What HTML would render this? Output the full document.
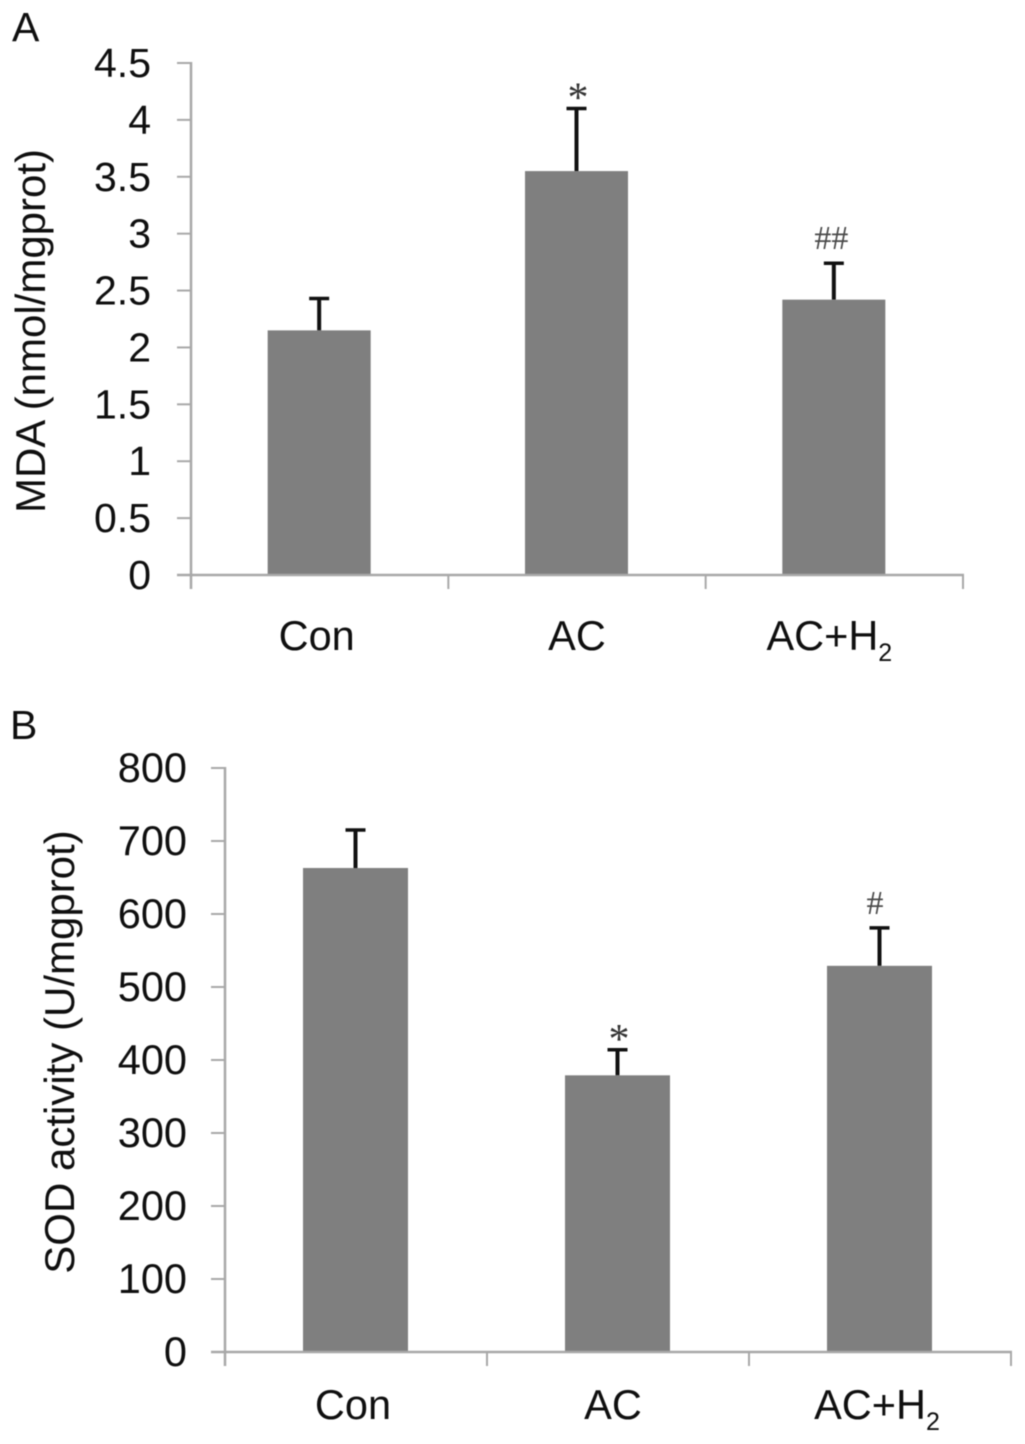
<!DOCTYPE html>
<html>
<head>
<meta charset="utf-8">
<title>MDA and SOD bar charts</title>
<style>
html,body{margin:0;padding:0;background:#fff;}
svg{display:block;filter:blur(0.5px);}
text{font-family:"Liberation Sans",Arial,sans-serif;fill:#0f0f0f;}
</style>
</head>
<body>
<svg id="fig" xmlns="http://www.w3.org/2000/svg" width="1025" height="1444" viewBox="0 0 1025 1444"></svg>
<script>
const groupsA = ['Con', 'AC', 'AC+H'];
const valuesA = [2.15, 3.55, 2.42];
const errorsA = [0.28, 0.55, 0.32];
const ticksA = [0, 0.5, 1, 1.5, 2, 2.5, 3, 3.5, 4, 4.5];
const marksA = ['', '*', '##'];

const groupsB = ['Con', 'AC', 'AC+H'];
const valuesB = [663, 379, 529];
const errorsB = [52, 35, 52];
const ticksB = [0, 100, 200, 300, 400, 500, 600, 700, 800];
const marksB = ['', '*', '#'];

const svg = document.getElementById('fig');
const NS = 'http://www.w3.org/2000/svg';

function make(tag, attrs, text) {
  const el = document.createElementNS(NS, tag);
  for (const k in attrs) el.setAttribute(k, attrs[k]);
  if (text !== undefined) el.textContent = text;
  svg.appendChild(el);
  return el;
}

function drawChart(cfg) {
  const yScale = v => cfg.y0 - (v - cfg.min) / (cfg.max - cfg.min) * (cfg.y0 - cfg.yTop);
  const band = (cfg.xEnd - cfg.x0) / cfg.groups.length;
  const xCenter = i => cfg.x0 + band * (i + 0.5);

  cfg.groups.forEach((g, i) => {
    const cx = xCenter(i);
    const top = yScale(cfg.values[i]);
    const errTop = yScale(cfg.values[i] + cfg.errors[i]);

    const stem = make('line', {x1: cx - 0.5, x2: cx - 0.5, y1: top, y2: errTop, stroke: '#111', 'stroke-width': 4});
    
    

    const cap = make('line', {x1: cx - 10.5, x2: cx + 9.5, y1: errTop, y2: errTop, stroke: '#111', 'stroke-width': 3.5});
    
    

    const bar = make('rect', {x: cx - cfg.barW / 2 - 0.5, y: top, width: cfg.barW, height: cfg.y0 - top, fill: '#7f7f7f'});
    
    

    const label = make('text', {x: cx + cfg.labelDx[i], y: cfg.labelY, 'text-anchor': 'middle', 'font-size': cfg.labelSize}, g);
    
    
    if (g.endsWith('+H')) {
      const sub = document.createElementNS(NS, 'tspan');
      sub.setAttribute('font-size', 25);
      sub.setAttribute('dy', 11);
      sub.textContent = '2';
      label.appendChild(sub);
    }

    if (cfg.marks[i]) {
      const isStar = cfg.marks[i] === '*';
      const mark = make('text', {
        x: cx + cfg.markDx[i],
        y: errTop + (isStar ? 3 : -14),
        'text-anchor': 'middle',
        'font-size': isStar ? 42 : 34,
        style: 'font-family:"Liberation Serif",serif;fill:' + (isStar ? '#333' : '#4a4a4a')
      }, cfg.marks[i]);
      
      
    }
  });

  const yAxis = make('line', {x1: cfg.x0, x2: cfg.x0, y1: cfg.yTop - 1, y2: cfg.y0 + 14, stroke: '#a8a8a8', 'stroke-width': 2.5});
  
  

  const xAxis = make('line', {x1: cfg.x0 - 14, x2: cfg.xEnd + 1, y1: cfg.y0, y2: cfg.y0, stroke: '#a8a8a8', 'stroke-width': 2.5});
  
  

  for (let i = 1; i <= cfg.groups.length; i++) {
    const tx = cfg.x0 + band * i;
    const t = make('line', {x1: tx, x2: tx, y1: cfg.y0, y2: cfg.y0 + 14, stroke: '#a8a8a8', 'stroke-width': 2});
    
    
  }

  cfg.ticks.forEach(v => {
    const ty = yScale(v);
    if (v !== cfg.min) {
      const t = make('line', {x1: cfg.x0 - 14, x2: cfg.x0, y1: ty, y2: ty, stroke: '#a8a8a8', 'stroke-width': 2});
      
      
    }
    const l = make('text', {x: cfg.tickX, y: ty + 14, 'text-anchor': 'end', 'font-size': cfg.tickSize}, String(v));
    
    
  });

  const title = make('text', {
    transform: 'translate(' + cfg.titleX + ' ' + cfg.titleY + ') rotate(-90)',
    'text-anchor': 'middle',
    'font-size': cfg.titleSize
  }, cfg.title);
  
  

  const panel = make('text', {x: cfg.panelX, y: cfg.panelY, 'font-size': 41}, cfg.panel);
  
  
}

drawChart({
  id: 'mda', panel: 'A', panelX: 12, panelY: 41,
  groups: groupsA, values: valuesA, errors: errorsA, ticks: ticksA, marks: marksA,
  min: 0, max: 4.5, x0: 191, xEnd: 963, y0: 575, yTop: 63, barW: 103,
  tickX: 151, tickSize: 41, labelY: 650, labelSize: 41.5, labelDx: [-3, 0, -5], markDx: [0, 1, -3],
  title: 'MDA (nmol/mgprot)', titleX: 45, titleY: 331, titleSize: 42
});

drawChart({
  id: 'sod', panel: 'B', panelX: 10, panelY: 739,
  groups: groupsB, values: valuesB, errors: errorsB, ticks: ticksB, marks: marksB,
  min: 0, max: 800, x0: 225, xEnd: 1011, y0: 1352, yTop: 768, barW: 105,
  tickX: 187, tickSize: 41.5, labelY: 1419, labelSize: 41.5, labelDx: [-3, -5, -3], markDx: [0, 1, -5],
  title: 'SOD activity (U/mgprot)', titleX: 74, titleY: 1052, titleSize: 42
});
</script>
</body>
</html>
